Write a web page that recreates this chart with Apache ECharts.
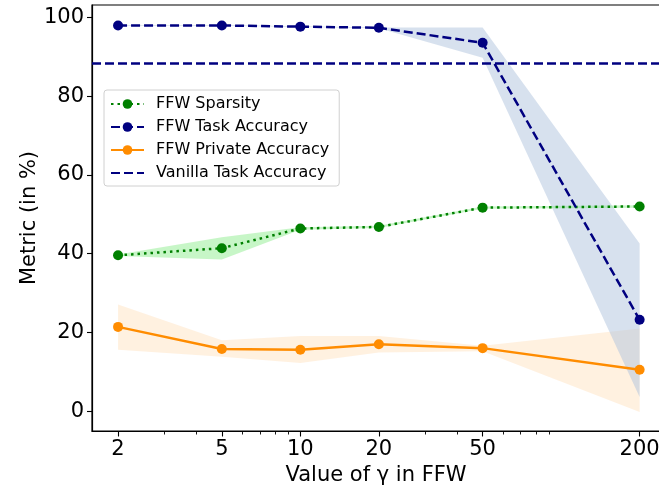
<!DOCTYPE html>
<html>
<head>
<meta charset="utf-8">
<script src="https://cdn.jsdelivr.net/npm/echarts@6/dist/echarts.min.js"></script>
<style>
  html, body { margin: 0; padding: 0; background: #fff; }
  #chart { width: 659px; height: 493px; }
</style>
</head>
<body>
<div id="chart"></div>
<script>
// gamma values and metrics
const gammas = [2, 5, 10, 20, 50, 200];
const majorTicks = [2, 5, 10, 20, 50, 200];
const minorTicks = [3, 4, 6, 7, 8, 9, 30, 40, 60, 70, 80, 90];
const yTicks = [0, 20, 40, 60, 80, 100];

const sparsity = [39.6, 41.4, 46.4, 46.8, 51.7, 52.0];
const sparsityLow = [39.4, 38.5, 46.1, 46.5, 51.4, 51.7];
const sparsityHigh = [39.8, 44.2, 46.7, 47.1, 52.0, 52.3];

const taskAcc = [98.0, 98.0, 97.7, 97.4, 93.6, 23.2];
const taskLow = [97.9, 97.9, 97.6, 97.3, 89.8, 3.6];
const taskHigh = [98.1, 98.1, 97.8, 97.5, 97.5, 42.6];

const privAcc = [21.4, 15.8, 15.6, 17.0, 16.0, 10.5];
const privLow = [15.6, 13.8, 12.2, 14.9, 15.2, -0.2];
const privHigh = [27.1, 18.0, 19.1, 19.1, 16.6, 21.0];

const vanillaAcc = 88.5;

const font = 'DejaVu Sans';
const chart = echarts.init(document.getElementById('chart'));

const pairs = ys => gammas.map((g, i) => [g, ys[i]]);

// shaded min/max band drawn as one polygon through the axis scales
function band(name, lo, hi, color) {
  return {
    type: 'custom', name: name, silent: true, z: 1,
    data: gammas.map((g, i) => [g, lo[i], hi[i]]),
    encode: { x: 0, y: [1, 2] },
    renderItem: (params, api) => {
      if (params.dataIndex !== 0) return null;
      const top = gammas.map((g, i) => api.coord([g, hi[i]]));
      const bot = gammas.map((g, i) => api.coord([g, lo[i]])).reverse();
      return {
        type: 'polygon',
        shape: { points: top.concat(bot) },
        style: { fill: color }
      };
    }
  };
}

const option = {
  animation: false,
  backgroundColor: '#fff',
  grid: {
    left: 92, right: -1, top: 5, bottom: 62,
    outerBoundsMode: 'none',
    show: true, borderColor: '#000', borderWidth: 1.2
  },
  legend: {
    orient: 'vertical',
    left: 104, top: 90,
    padding: [6, 10, 5, 6],
    itemWidth: 33, itemHeight: 12, itemGap: 7,
    borderColor: '#d0d0d0', borderWidth: 1, borderRadius: 3,
    backgroundColor: 'rgba(255,255,255,0.8)',
    textStyle: { fontFamily: font, fontSize: 16, color: '#000', padding: [0, 0, 0, 7] },
    data: [
      'FFW Sparsity', 'FFW Task Accuracy', 'FFW Private Accuracy',
      { name: 'Vanilla Task Accuracy', itemStyle: { opacity: 0 } }
    ]
  },
  xAxis: [
    {
      type: 'log', logBase: 10, min: 1.589, max: 239.4,
      name: 'Value of γ in FFW', nameLocation: 'middle', nameGap: 27,
      nameTextStyle: { fontFamily: font, fontSize: 21, color: '#000' },
      axisLine: { show: true, onZero: false, lineStyle: { color: '#000', width: 1.2 } },
      axisTick: { show: true, customValues: majorTicks, length: 5.5, lineStyle: { color: '#000', width: 1.1 } },
      axisLabel: { customValues: majorTicks, fontFamily: font, fontSize: 21, color: '#000', margin: 8 },
      splitLine: { show: false }, minorTick: { show: false }
    },
    {
      type: 'log', logBase: 10, min: 1.589, max: 239.4, position: 'bottom',
      axisLine: { show: false, onZero: false },
      axisTick: { show: true, customValues: minorTicks, length: 3.5, lineStyle: { color: '#000', width: 0.9 } },
      axisLabel: { show: false, customValues: minorTicks },
      splitLine: { show: false }
    }
  ],
  yAxis: {
    type: 'value', min: -5.06, max: 103.2,
    name: 'Metric (in %)', nameLocation: 'middle', nameGap: 52, nameMoveOverlap: false,
    nameTextStyle: { fontFamily: font, fontSize: 21, color: '#000' },
    axisLine: { show: true, lineStyle: { color: '#000', width: 1.2 } },
    axisTick: { show: true, customValues: yTicks, length: 5, lineStyle: { color: '#000', width: 1.1 } },
    axisLabel: { customValues: yTicks, fontFamily: font, fontSize: 21, color: '#000', margin: 8 },
    splitLine: { show: false }
  },
  series: [
    band('privBand', privLow, privHigh, 'rgba(255,140,0,0.12)'),
    band('taskBand', taskLow, taskHigh, 'rgba(176,196,222,0.5)'),
    band('sparBand', sparsityLow, sparsityHigh, 'rgba(144,238,144,0.5)'),
    {
      type: 'line', name: 'FFW Sparsity', data: pairs(sparsity), z: 5,
      symbol: 'circle', symbolSize: 10,
      itemStyle: { color: '#008000' },
      lineStyle: { color: '#008000', width: 2.5, type: [2.5, 4] }
    },
    {
      type: 'line', name: 'FFW Task Accuracy', data: pairs(taskAcc), z: 5,
      symbol: 'circle', symbolSize: 10,
      itemStyle: { color: '#000080' },
      lineStyle: { color: '#000080', width: 2.5, type: [9, 4] }
    },
    {
      type: 'line', name: 'FFW Private Accuracy', data: pairs(privAcc), z: 5,
      symbol: 'circle', symbolSize: 10,
      itemStyle: { color: '#ff8c00' },
      lineStyle: { color: '#ff8c00', width: 2.5 }
    },
    {
      type: 'line', name: 'Vanilla Task Accuracy', data: [], z: 4,
      symbol: 'none',
      itemStyle: { color: '#000080' },
      lineStyle: { color: '#000080', width: 2.5, type: [9, 4] },
      markLine: {
        silent: true, symbol: 'none', label: { show: false },
        lineStyle: { color: '#000080', width: 2.5, type: [9, 4] },
        data: [{ yAxis: vanillaAcc }]
      }
    }
  ]
};

chart.setOption(option);
</script>
</body>
</html>
